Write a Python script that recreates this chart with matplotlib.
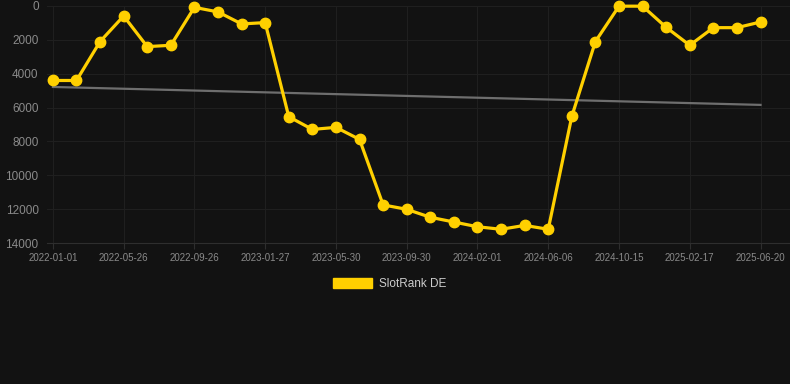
#!/usr/bin/env python3
"""SlotRank DE over time, dark theme, inverted rank axis with a linear trend."""

import matplotlib
matplotlib.use("Agg")
import matplotlib.pyplot as plt
import numpy as np

tick_labels = [
    "2022-01-01", "2022-05-26", "2022-09-26", "2023-01-27", "2023-05-30", "2023-09-30",
    "2024-02-01", "2024-06-06", "2024-10-15", "2025-02-17", "2025-06-20",
]
rank_de = [
    4400, 4400, 2100, 590, 2400, 2320, 80, 350, 1060, 980,
    6540, 7290, 7170, 7880, 11750, 12010, 12480, 12760, 13040, 13190,
    12960, 13190, 6520, 2100, 10, 10, 1260, 2320, 1280, 1280, 945,
]
series_name = "SlotRank DE"

BG = "#121212"
YELLOW = "#FFD000"

plt.rcParams["font.family"] = ["Liberation Sans", "DejaVu Sans"]

fig = plt.figure(figsize=(7.9, 3.84), dpi=100, facecolor=BG)
ax = fig.add_axes([47 / 790, 1 - 243 / 384, 743 / 790, 237 / 384])
ax.set_facecolor(BG)

x = np.arange(len(rank_de))
y = np.array(rank_de, dtype=float)

# linear trend through the series
slope, intercept = np.polyfit(x, y, 1)
ax.plot(x, slope * x + intercept, color="#6e6e6e", lw=1.6, zorder=2)

ax.plot(x, y, color=YELLOW, lw=2.3, marker="o", ms=7.5, zorder=3, clip_on=False,
        label=series_name)

ax.set_xlim(-0.25, 31.25)
ax.set_ylim(14000, 0)
ax.set_yticks(np.arange(0, 14001, 2000))
ax.set_xticks(x[::3])
ax.set_xticklabels(tick_labels)

ax.grid(True, color="#1f1f1f", lw=0.8, zorder=0)
for side in ("top", "right", "left"):
    ax.spines[side].set_visible(False)
ax.spines["bottom"].set_color("#2e2e2e")

ax.tick_params(axis="y", colors="#8a8a8a", labelsize=8.5, length=0, pad=6)
ax.tick_params(axis="x", colors="#8a8a8a", labelsize=7, length=4, pad=3)
ax.tick_params(axis="x", color="#2e2e2e")

leg = fig.legend(handles=[plt.Rectangle((0, 0), 1, 1, color=YELLOW)], labels=[series_name],
                 loc="center", bbox_to_anchor=(390 / 790, 1 - 284 / 384), frameon=False,
                 handlelength=3.3, handleheight=1.0, fontsize=8.5, labelcolor="#cccccc",
                 handletextpad=0.6)

fig.savefig("out.png", dpi=100, facecolor=BG)
